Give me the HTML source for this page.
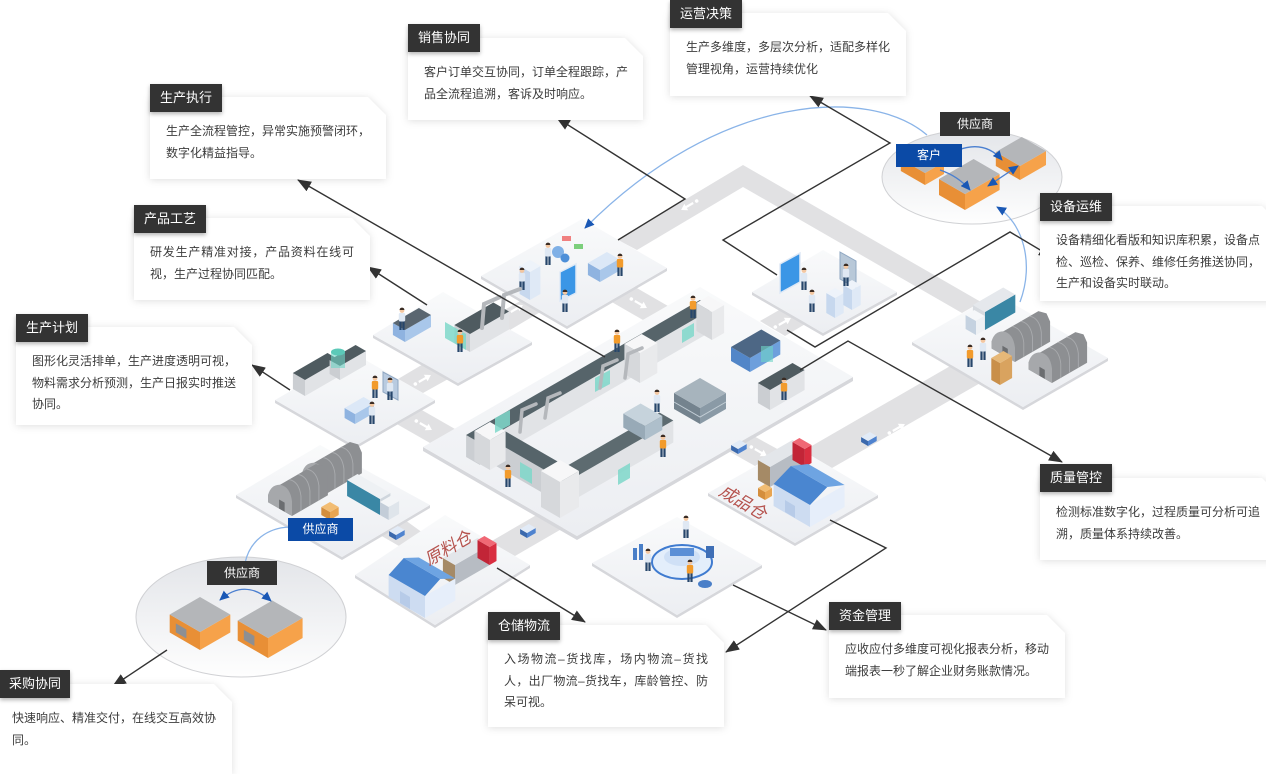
<!DOCTYPE html>
<html><head><meta charset="utf-8">
<style>
html,body{margin:0;padding:0;background:#fff;}
body{width:1266px;height:765px;position:relative;overflow:hidden;font-family:"Liberation Sans","Noto Sans CJK SC",sans-serif;}
svg{position:absolute;left:0;top:0;}
.co{position:absolute;filter:drop-shadow(0 1px 4px rgba(0,0,0,.13));}
.co .bd{width:100%;height:100%;background:#fff;clip-path:polygon(0 0,calc(100% - 18px) 0,100% 18px,100% 100%,0 100%);box-sizing:border-box;padding:24px 16px 0 16px;font-size:12px;line-height:21.5px;color:#3c3c3c;}
.bd div{white-space:nowrap;}
.bd .j{text-align:justify;text-align-last:justify;}
.tab{position:absolute;width:72px;height:28px;background:#333;color:#fff;font-size:13px;line-height:28px;text-align:center;box-shadow:0 2px 4px rgba(0,0,0,.3);}
.lb{position:absolute;color:#fff;font-size:12px;text-align:center;}
</style></head>
<body>
<svg width="1266" height="765" viewBox="0 0 1266 765">
<defs>
<linearGradient id="pg" x1="0" y1="0" x2="0" y2="1"><stop offset="0" stop-color="#f9fafb"/><stop offset="1" stop-color="#eceef2"/></linearGradient>
<linearGradient id="eg" x1="0" y1="0" x2="0" y2="1"><stop offset="0" stop-color="#e3e5e9"/><stop offset="1" stop-color="#fefefe"/></linearGradient>
<rect id="u" width="1" height="1"/>
<marker id="ah" viewBox="0 0 14 11" refX="13" refY="5.5" markerWidth="14" markerHeight="11" markerUnits="userSpaceOnUse" orient="auto"><path d="M0,0 L14,5.5 L0,11 Z" fill="#333"/></marker>
<marker id="bh" viewBox="0 0 10 9" refX="9" refY="4.5" markerWidth="10" markerHeight="9" markerUnits="userSpaceOnUse" orient="auto-start-reverse"><path d="M0,0 L10,4.5 L0,9 Z" fill="#1a58b5"/></marker>
<g id="man"><rect x="-2.6" y="-9" width="2.2" height="9" fill="#27466b"/><rect x="0.4" y="-9" width="2.2" height="9" fill="#27466b"/><rect x="-3.2" y="-17" width="6.4" height="8.5" rx="1.2" fill="#f29b2c"/><circle cx="0" cy="-19.5" r="2.4" fill="#f3c7a1"/><path d="M-2.4,-20 a2.4,2.4 0 0 1 4.8,0z" fill="#3a2b22"/></g>
<g id="manb"><rect x="-2.6" y="-9" width="2.2" height="9" fill="#27466b"/><rect x="0.4" y="-9" width="2.2" height="9" fill="#27466b"/><rect x="-3.2" y="-17" width="6.4" height="8.5" rx="1.2" fill="#dfe8f3"/><circle cx="0" cy="-19.5" r="2.4" fill="#f3c7a1"/><path d="M-2.4,-20 a2.4,2.4 0 0 1 4.8,0z" fill="#3a2b22"/></g>
<g id="hut">
<polygon points="-26,-15 -26,-23 -19,-32 -13,-34 26,-56.5 35,-54 39,-45 39,-22.5 0,0" fill="#8d8f92"/>
<path d="M9.75,-5.6 L9.75,-21.6 Q7.75,-37.6 -3.25,-39.6" fill="none" stroke="#a9abae"/>
<path d="M19.5,-11.25 L19.5,-27.25 Q17.5,-43.25 6.5,-45.25" fill="none" stroke="#a9abae"/>
<path d="M29.25,-16.9 L29.25,-32.9 Q27.25,-48.9 16.25,-50.9" fill="none" stroke="#a9abae"/>
<path d="M0,0 L0,-16 Q-2,-32 -13,-34 Q-23,-34 -26,-23 L-26,-15 Z" fill="#a6a8ab"/>
<polygon points="-8,-4.6 -14,-8 -14,-18 -8,-14.6" fill="#6b6d70"/>
</g>
<g id="agv"><use href="#u" transform="matrix(8.7,-5,0,-5,0,0)" fill="#4f83cf"/><use href="#u" transform="matrix(-6.9,-4,0,-5,0,0)" fill="#3b69ad"/><use href="#u" transform="matrix(8.7,-5,-6.9,-4,0,-5)" fill="#e2ebf7"/></g>
<g id="ra"><path d="M-6,0 L4,0" stroke="#fff" stroke-width="2.2"/><path d="M2,-3.8 L8,0 L2,3.8Z" fill="#fff"/><circle cx="-10" cy="0" r="1.8" fill="#fff"/></g>
</defs>

<!-- ellipses -->
<ellipse cx="241" cy="617" rx="105" ry="60" fill="url(#eg)" stroke="#d0d1d4"/>
<ellipse cx="972" cy="177" rx="90" ry="47" fill="url(#eg)" stroke="#d0d1d4"/>

<!-- roads -->
<g fill="#e1e1e3">
<polygon points="618,240 743,165 981,302 962,313 743,187 637,250"/>
<polygon points="952,365 982,382 832,468 803,451"/>
<polygon points="398,379 423,393 450,378 425,363"/>
<polygon points="395,423 420,409 455,429 430,443"/>
<polygon points="490,318 510,330 542,311 522,300"/>
<polygon points="610,301 635,287 668,306 643,320"/>
<polygon points="760,321 785,336 807,323 781,309"/>
<polygon points="540,513 565,527 515,556 490,542"/>
<polygon points="380,535 405,520 423,533 399,546"/>
<polygon points="725,449 750,434 781,451 755,466"/>
</g>
<use href="#ra" transform="translate(688,206) rotate(150)"/>
<use href="#ra" transform="translate(640,304) rotate(30)"/>
<use href="#ra" transform="translate(516,309) rotate(-30)"/>
<use href="#ra" transform="translate(424,379) rotate(-30)"/>
<use href="#ra" transform="translate(425,426) rotate(30)"/>
<use href="#ra" transform="translate(784,322) rotate(-30)"/>
<use href="#ra" transform="translate(898,428) rotate(-30)"/>
<use href="#ra" transform="translate(760,452) rotate(30)"/>

<!-- platforms -->
<g>
<polygon points="236,495 342,557 430,505 430,508 342,560 236,498" fill="#d6d7db"/>
<polygon points="320,445 430,505 342,557 236,495" fill="url(#pg)"/>
<polygon points="355,575 435,625 530,565 530,568 435,628 355,578" fill="#d6d7db"/>
<polygon points="445,515 530,565 435,625 355,575" fill="url(#pg)"/>
<polygon points="592,563 677,615 762,565 762,568 677,618 592,566" fill="#d6d7db"/>
<polygon points="677,517 762,565 677,615 592,563" fill="url(#pg)"/>
<polygon points="708,493 795,543 878,495 878,498 795,546 708,496" fill="#d6d7db"/>
<polygon points="793,445 878,495 795,543 708,493" fill="url(#pg)"/>
<polygon points="912,342 1023,407 1108,358 1108,361 1023,410 912,345" fill="#d6d7db"/>
<polygon points="996,294 1108,358 1023,407 912,342" fill="url(#pg)"/>
<polygon points="752,292 823,333 897,292 897,295 823,336 752,295" fill="#d6d7db"/>
<polygon points="823,250 897,292 823,333 752,292" fill="url(#pg)"/>
<polygon points="423,447 577,536 853,377 853,381 577,540 423,451" fill="#d6d7db"/>
<polygon points="700,287 853,377 577,536 423,447" fill="url(#pg)"/>
<polygon points="275,400 355,446 435,400 435,403 355,449 275,403" fill="#d6d7db"/>
<polygon points="355,354 435,400 355,446 275,400" fill="url(#pg)"/>
<polygon points="373,335 458,383 532,342 532,345 458,386 373,338" fill="#d6d7db"/>
<polygon points="443,292 532,342 458,383 373,335" fill="url(#pg)"/>
<polygon points="481,276 567,326 667,268 667,271 567,329 481,279" fill="#d6d7db"/>
<polygon points="582,219 667,268 567,326 481,276" fill="url(#pg)"/>
</g>

<!-- P1 content -->
<use href="#u" transform="matrix(10.4,-6,0,-28,530,300)" fill="#dfe9f6"/>
<use href="#u" transform="matrix(-10.4,-6,0,-28,530,300)" fill="#c7d8ee"/>
<use href="#u" transform="matrix(10.4,-6,-10.4,-6,530,272)" fill="#eef3fa"/>
<polygon points="560,272 576,264 576,293 560,301" fill="#3b96e6" stroke="#dfe9f6" stroke-width="1.5"/>
<use href="#u" transform="matrix(19,-11,0,-12,600,282)" fill="#a9c7ea"/>
<use href="#u" transform="matrix(-12.1,-7,0,-12,600,282)" fill="#8fb3e0"/>
<use href="#u" transform="matrix(19,-11,-12.1,-7,600,270)" fill="#dce8f7"/>
<circle cx="558" cy="252" r="6" fill="#7fb0e6"/><circle cx="565" cy="258" r="4.5" fill="#4d8fd8"/>
<rect x="562" y="236" width="9" height="5" fill="#f08080"/><rect x="574" y="244" width="9" height="5" fill="#7ccf7c"/>
<use href="#manb" transform="translate(522,290)"/><use href="#manb" transform="translate(548,265)"/>
<use href="#manb" transform="translate(565,312)"/><use href="#man" transform="translate(620,276)"/>

<!-- P2 content -->
<use href="#u" transform="matrix(26,-15,0,-12,405,342)" fill="#a9c7ea"/>
<use href="#u" transform="matrix(-12.1,-7,0,-12,405,342)" fill="#8fb3e0"/>
<use href="#u" transform="matrix(26,-15,-12.1,-7,405,330)" fill="#5a6670"/>
<use href="#u" transform="matrix(39,-22.5,0,-18,470,352)" fill="#e1e3e6"/>
<use href="#u" transform="matrix(-15.6,-9,0,-18,470,352)" fill="#cbced2"/>
<use href="#u" transform="matrix(39,-22.5,-15.6,-9,470,334)" fill="#4f5b60"/>
<polygon points="445,322 466,334 466,350 445,338" fill="#7fd8ca" opacity=".85"/>
<g stroke="#b5b8bc" stroke-width="4" stroke-linecap="round" fill="none">
<path d="M482,328 L484,304 L500,297"/><path d="M502,318 L504,295 L520,289"/>
</g>
<use href="#man" transform="translate(460,352)"/><use href="#manb" transform="translate(402,330)"/>

<!-- P3 content -->
<use href="#u" transform="matrix(34.6,-20,0,-16,305,396)" fill="#e1e3e6"/>
<use href="#u" transform="matrix(-12.1,-7,0,-16,305,396)" fill="#cbced2"/>
<use href="#u" transform="matrix(34.6,-20,-12.1,-7,305,380)" fill="#4f5b60"/>
<use href="#u" transform="matrix(26,-15,0,-14,340,380)" fill="#e1e3e6"/>
<use href="#u" transform="matrix(-10.4,-6,0,-14,340,380)" fill="#cbced2"/>
<use href="#u" transform="matrix(26,-15,-10.4,-6,340,366)" fill="#4f5b60"/>
<rect x="331" y="352" width="14" height="16" fill="#6fd6c6" opacity=".6"/>
<ellipse cx="338" cy="352" rx="7" ry="3.5" fill="#5cc9b8"/>
<use href="#u" transform="matrix(19,-11,0,-10,355,424)" fill="#a9c7ea"/>
<use href="#u" transform="matrix(-10.4,-6,0,-10,355,424)" fill="#8fb3e0"/>
<use href="#u" transform="matrix(19,-11,-10.4,-6,355,414)" fill="#dce8f7"/>
<polygon points="383,372 398,380 398,400 383,392" fill="#b9cbe0" stroke="#8fa7c2"/>
<use href="#man" transform="translate(375,398)"/><use href="#manb" transform="translate(372,424)"/>
<use href="#manb" transform="translate(390,400)"/>

<!-- main platform content -->
<use href="#u" transform="matrix(233.8,-135,0,-22,480,465)" fill="#e1e3e6"/>
<use href="#u" transform="matrix(-13.9,-8,0,-22,480,465)" fill="#cbced2"/>
<use href="#u" transform="matrix(233.8,-135,-13.9,-8,480,443)" fill="#56646a"/>
<use href="#u" transform="matrix(13.9,-8,0,-24,555,500)" fill="#e1e3e6"/>
<use href="#u" transform="matrix(-73.6,-42.5,0,-24,555,500)" fill="#cbced2"/>
<use href="#u" transform="matrix(13.9,-8,-73.6,-42.5,555,476)" fill="#56646a"/>
<use href="#u" transform="matrix(108.3,-62.5,0,-22,565,505)" fill="#e1e3e6"/>
<use href="#u" transform="matrix(-13.9,-8,0,-22,565,505)" fill="#cbced2"/>
<use href="#u" transform="matrix(108.3,-62.5,-13.9,-8,565,483)" fill="#5d6b70"/>
<use href="#u" transform="matrix(15.6,-9,0,-30,490,470)" fill="#e9eaec"/>
<use href="#u" transform="matrix(-15.6,-9,0,-30,490,470)" fill="#d6d8db"/>
<use href="#u" transform="matrix(15.6,-9,-15.6,-9,490,440)" fill="#f7f7f8"/>
<use href="#u" transform="matrix(19,-11,0,-36,560,518)" fill="#e9eaec"/>
<use href="#u" transform="matrix(-19,-11,0,-36,560,518)" fill="#d6d8db"/>
<use href="#u" transform="matrix(19,-11,-19,-11,560,482)" fill="#f7f7f8"/>
<use href="#u" transform="matrix(17.3,-10,0,-30,640,383)" fill="#e9eaec"/>
<use href="#u" transform="matrix(-15.6,-9,0,-30,640,383)" fill="#d6d8db"/>
<use href="#u" transform="matrix(17.3,-10,-15.6,-9,640,353)" fill="#f7f7f8"/>
<use href="#u" transform="matrix(12.1,-7,0,-28,712,340)" fill="#e9eaec"/>
<use href="#u" transform="matrix(-15.6,-9,0,-28,712,340)" fill="#d6d8db"/>
<use href="#u" transform="matrix(12.1,-7,-15.6,-9,712,312)" fill="#f7f7f8"/>
<g fill="#7fd8ca" opacity=".85">
<polygon points="495,418 510,410 510,425 495,433"/><polygon points="595,378 610,370 610,384 595,392"/>
<polygon points="618,470 630,463 630,478 618,485"/><polygon points="520,462 532,469 532,484 520,477"/>
<polygon points="682,330 694,323 694,336 682,343"/>
</g>
<g stroke="#b5b8bc" stroke-width="3.5" stroke-linecap="round" fill="none">
<path d="M600,388 L603,366 L617,360"/><path d="M625,378 L628,354 L642,348"/><path d="M545,418 L548,398 L560,393"/><path d="M520,432 L522,410 L536,404"/>
</g>
<use href="#u" transform="matrix(26,-15,0,-16,700,424)" fill="#8a9aa6"/>
<use href="#u" transform="matrix(-26,-15,0,-16,700,424)" fill="#74838e"/>
<use href="#u" transform="matrix(26,-15,-26,-15,700,408)" fill="#a7b4bd"/>
<path d="M674,402 L700,417 L726,402" fill="none" stroke="#c3ced6" stroke-width="1"/>
<use href="#u" transform="matrix(17.3,-10,0,-14,645,440)" fill="#aebfcb"/>
<use href="#u" transform="matrix(-21.7,-12.5,0,-14,645,440)" fill="#98aab7"/>
<use href="#u" transform="matrix(17.3,-10,-21.7,-12.5,645,426)" fill="#c6d3dc"/>
<use href="#u" transform="matrix(30.3,-17.5,0,-14,750,372)" fill="#6d9fdc"/>
<use href="#u" transform="matrix(-19,-11,0,-14,750,372)" fill="#5286c8"/>
<use href="#u" transform="matrix(30.3,-17.5,-19,-11,750,358)" fill="#4d6785"/>
<use href="#u" transform="matrix(34.6,-20,0,-20,770,410)" fill="#e1e3e6"/>
<use href="#u" transform="matrix(-12.1,-7,0,-20,770,410)" fill="#cbced2"/>
<use href="#u" transform="matrix(34.6,-20,-12.1,-7,770,390)" fill="#4f5b60"/>
<rect x="761" y="346" width="12" height="16" fill="#6fd6c6" opacity=".6"/>
<use href="#man" transform="translate(508,487)"/><use href="#man" transform="translate(663,457)"/>
<use href="#man" transform="translate(617,352)"/><use href="#man" transform="translate(693,318)"/>
<use href="#man" transform="translate(784,400)"/><use href="#manb" transform="translate(657,412)"/>

<!-- Prt content -->
<polygon points="780,264 800,253 800,282 780,293" fill="#3b96e6" stroke="#dfe9f6" stroke-width="1.5"/>
<polygon points="840,252 856,261 856,288 840,279" fill="#b8c8d8" stroke="#8fa7c2"/>
<use href="#u" transform="matrix(8.7,-5,0,-20,835,318)" fill="#dfe9f6"/>
<use href="#u" transform="matrix(-8.7,-5,0,-20,835,318)" fill="#c7d8ee"/>
<use href="#u" transform="matrix(8.7,-5,-8.7,-5,835,298)" fill="#eef3fa"/>
<use href="#u" transform="matrix(8.7,-5,0,-20,852,310)" fill="#dfe9f6"/>
<use href="#u" transform="matrix(-8.7,-5,0,-20,852,310)" fill="#c7d8ee"/>
<use href="#u" transform="matrix(8.7,-5,-8.7,-5,852,290)" fill="#eef3fa"/>
<use href="#manb" transform="translate(804,290)"/><use href="#manb" transform="translate(846,286)"/>
<use href="#manb" transform="translate(812,312)"/>

<!-- P_right content -->
<use href="#u" transform="matrix(30.3,-17.5,0,-18,985,330)" fill="#3a87a5"/>
<use href="#u" transform="matrix(-12.1,-7,0,-18,985,330)" fill="#d7dbe0"/>
<use href="#u" transform="matrix(30.3,-17.5,-12.1,-7,985,312)" fill="#e5e8ec"/>
<use href="#u" transform="matrix(8.7,-5,0,-14,976,335)" fill="#eef1f4"/>
<use href="#u" transform="matrix(-10.4,-6,0,-14,976,335)" fill="#c5d2e0"/>
<use href="#u" transform="matrix(8.7,-5,-10.4,-6,976,321)" fill="#f5f7f9"/>
<use href="#hut" transform="translate(1015,362) scale(.9)"/>
<use href="#hut" transform="translate(1052,383) scale(.9)"/>
<use href="#u" transform="matrix(12.1,-7,0,-22,1000,385)" fill="#d9a35f"/>
<use href="#u" transform="matrix(-8.7,-5,0,-22,1000,385)" fill="#c98f4a"/>
<use href="#u" transform="matrix(12.1,-7,-8.7,-5,1000,363)" fill="#e6b878"/>
<use href="#man" transform="translate(970,367)"/><use href="#manb" transform="translate(983,360)"/>

<!-- P_fin -->
<use href="#u" transform="matrix(34.6,-20,0,-20,770,487)" fill="#b7bcc3"/>
<use href="#u" transform="matrix(-12.1,-7,0,-20,770,487)" fill="#a58a66"/>
<use href="#u" transform="matrix(34.6,-20,-12.1,-7,770,467)" fill="#e3e6ea"/>
<use href="#u" transform="matrix(6.9,-4,0,-18,804.6,467)" fill="#d92e40"/>
<use href="#u" transform="matrix(-12.1,-7,0,-18,804.6,467)" fill="#c22537"/>
<use href="#u" transform="matrix(6.9,-4,-12.1,-7,804.6,449)" fill="#f06875"/>
<use href="#u" transform="matrix(7,-4,0,-8,765,500)" fill="#e8a552"/>
<use href="#u" transform="matrix(-7,-4,0,-8,765,500)" fill="#d48e3d"/>
<use href="#u" transform="matrix(7,-4,-7,-4,765,492)" fill="#f2bd73"/>
<use href="#u" transform="matrix(34.6,-20,0,-22,810,527)" fill="#e6eefa"/>
<use href="#u" transform="matrix(-36.4,-21,0,-22,810,527)" fill="#cddcf1"/>
<polygon points="810,505 827.3,487 790.9,466 773.6,484" fill="#4a86d0"/>
<polygon points="827.3,487 844.6,485 808.2,464 790.9,466" fill="#6ea4e2"/>
<polygon points="795,518 785,512 785,500 795,506" fill="#b7cbe8"/>
<text x="743" y="508" transform="rotate(30 743 502)" font-size="17" fill="#b5524d" font-style="italic" text-anchor="middle" font-family="Liberation Sans, Noto Sans CJK SC, sans-serif">成品仓</text>

<!-- P_money -->
<ellipse cx="682" cy="562" rx="30" ry="17" fill="#e3eefb" stroke="#3f7bd0" stroke-width="2"/>
<ellipse cx="682" cy="557" rx="18" ry="9" fill="#cfe0f6"/>
<rect x="670" y="548" width="24" height="8" fill="#5b8fd6"/>
<rect x="633" y="548" width="4" height="12" fill="#4a7fc8"/><rect x="639" y="544" width="4" height="16" fill="#4a7fc8"/>
<rect x="706" y="546" width="8" height="12" fill="#3f6fb6"/>
<ellipse cx="705" cy="584" rx="7" ry="4" fill="#4a7fc8"/>
<use href="#manb" transform="translate(648,571)"/><use href="#man" transform="translate(690,582)"/>
<use href="#manb" transform="translate(686,538)"/>

<!-- P_raw -->
<use href="#u" transform="matrix(34.6,-20,0,-20,455,585)" fill="#b7bcc3"/>
<use href="#u" transform="matrix(-12.1,-7,0,-20,455,585)" fill="#a58a66"/>
<use href="#u" transform="matrix(34.6,-20,-12.1,-7,455,565)" fill="#e3e6ea"/>
<use href="#u" transform="matrix(6.9,-4,0,-18,489.6,565)" fill="#d92e40"/>
<use href="#u" transform="matrix(-12.1,-7,0,-18,489.6,565)" fill="#c22537"/>
<use href="#u" transform="matrix(6.9,-4,-12.1,-7,489.6,547)" fill="#f06875"/>
<use href="#u" transform="matrix(30.3,-17.5,0,-22,425,618)" fill="#e6eefa"/>
<use href="#u" transform="matrix(-36.4,-21,0,-22,425,618)" fill="#cddcf1"/>
<polygon points="425,596 440.2,579 403.8,558 388.6,575" fill="#4a86d0"/>
<polygon points="440.2,579 455.3,578.5 418.9,557.5 403.8,558" fill="#6ea4e2"/>
<polygon points="410,609 400,603 400,591 410,597" fill="#b7cbe8"/>
<text x="448" y="554" transform="rotate(-30 448 548)" font-size="17" fill="#b5524d" font-style="italic" text-anchor="middle" font-family="Liberation Sans, Noto Sans CJK SC, sans-serif">原料仓</text>

<!-- Psl -->
<use href="#hut" transform="translate(326,494) scale(.92)"/>
<use href="#hut" transform="translate(292,516) scale(.92)"/>
<use href="#u" transform="matrix(10.4,-6,0,-16,380,515)" fill="#cfd6dd"/>
<use href="#u" transform="matrix(-32.9,-19,0,-16,380,515)" fill="#3a87a5"/>
<use href="#u" transform="matrix(10.4,-6,-32.9,-19,380,499)" fill="#eef1f4"/>
<use href="#u" transform="matrix(10.4,-6,0,-13,388.7,520)" fill="#dfe5eb"/>
<use href="#u" transform="matrix(-8.7,-5,0,-13,388.7,520)" fill="#c3cdd8"/>
<use href="#u" transform="matrix(10.4,-6,-8.7,-5,388.7,507)" fill="#f3f5f7"/>
<use href="#u" transform="matrix(8.7,-5,0,-8,330,520)" fill="#e8a552"/>
<use href="#u" transform="matrix(-8.7,-5,0,-8,330,520)" fill="#d48e3d"/>
<use href="#u" transform="matrix(8.7,-5,-8.7,-5,330,512)" fill="#f2bd73"/>

<!-- AGVs -->
<use href="#agv" transform="translate(396,540)"/>
<use href="#agv" transform="translate(527,538)"/>
<use href="#agv" transform="translate(738,454)"/>
<use href="#agv" transform="translate(868,446)"/>

<!-- ellipse buildings -->
<use href="#u" transform="matrix(30.3,-17.5,0,-18,200,650)" fill="#f6a24a"/>
<use href="#u" transform="matrix(-30.3,-17.5,0,-18,200,650)" fill="#e88f36"/>
<use href="#u" transform="matrix(30.3,-17.5,-30.3,-17.5,200,632)" fill="#b4b6b9"/>
<use href="#u" transform="matrix(-10.6,-6.1,0,-9,186.4,638.5)" fill="#8d8f93"/>
<use href="#u" transform="matrix(34.6,-20,0,-20,268,658)" fill="#f6a24a"/>
<use href="#u" transform="matrix(-30.3,-17.5,0,-20,268,658)" fill="#e88f36"/>
<use href="#u" transform="matrix(34.6,-20,-30.3,-17.5,268,638)" fill="#b4b6b9"/>
<use href="#u" transform="matrix(-10.6,-6.1,0,-10,254.4,646)" fill="#8d8f93"/>
<use href="#u" transform="matrix(19,-11,0,-12,925,185)" fill="#f6a24a"/>
<use href="#u" transform="matrix(-24.2,-14,0,-12,925,185)" fill="#e88f36"/>
<use href="#u" transform="matrix(19,-11,-24.2,-14,925,173)" fill="#b4b6b9"/>
<use href="#u" transform="matrix(34.6,-20,0,-16,965,210)" fill="#f6a24a"/>
<use href="#u" transform="matrix(-26,-15,0,-16,965,210)" fill="#e88f36"/>
<use href="#u" transform="matrix(34.6,-20,-26,-15,965,194)" fill="#b4b6b9"/>
<use href="#u" transform="matrix(26,-15,0,-14,1020,180)" fill="#f6a24a"/>
<use href="#u" transform="matrix(-24.2,-14,0,-14,1020,180)" fill="#e88f36"/>
<use href="#u" transform="matrix(26,-15,-24.2,-14,1020,166)" fill="#b4b6b9"/>

<!-- blue arrows -->
<g fill="none" stroke="#4a7fd0" stroke-width="1.3">
<path d="M220,600 Q245,578 271,601" marker-start="url(#bh)" marker-end="url(#bh)"/>
<path d="M958,150 Q985,140 1002,160" marker-end="url(#bh)"/>
<path d="M940,170 Q958,176 970,190" marker-end="url(#bh)"/>
<path d="M988,186 L1018,166" marker-start="url(#bh)" marker-end="url(#bh)"/>
</g>
<g fill="none" stroke="#8ab4e8" stroke-width="1.3">
<path d="M927,135 C870,86 720,92 585,228" marker-end="url(#bh)"/>
<path d="M1020,302 C1035,262 1022,222 997,207" marker-end="url(#bh)"/>
<path d="M245,563 C250,540 268,528 289,527"/>
</g>

<!-- connectors -->
<g fill="none" stroke="#333" stroke-width="1.4" marker-end="url(#ah)">
<path d="M618,240 L685,199 L557,118"/>
<path d="M777,275 L723,240 L890,143 L810,96"/>
<path d="M787,330 L815,347 L1010,232 L1052,257"/>
<path d="M800,370 L848,341 L1062,462"/>
<path d="M605,357 L298,180"/>
<path d="M427,305 L368,267"/>
<path d="M290,390 L252,365"/>
<path d="M167,650 L113,686"/>
<path d="M497,568 L585,622"/>
<path d="M733,585 L826,630"/>
<path d="M830,520 L886,548 L726,652"/>
</g>
</svg>

<div class="lb" style="left:940px;top:112px;width:70px;height:24px;line-height:24px;background:#333">供应商</div>
<div class="lb" style="left:896px;top:144px;width:66px;height:23px;line-height:23px;background:#0b4aa6">客户</div>
<div class="lb" style="left:288px;top:518px;width:65px;height:23px;line-height:23px;background:#0b4aa6">供应商</div>
<div class="lb" style="left:207px;top:561px;width:70px;height:24px;line-height:24px;background:#333">供应商</div>

<div class="co" style="left:408px;top:38px;width:235px;height:82px"><div class="bd"><div class="j">客户订单交互协同，订单全程跟踪，产</div><div>品全流程追溯，客诉及时响应。</div></div></div>
<div class="tab" style="left:408px;top:24px">销售协同</div>

<div class="co" style="left:670px;top:13px;width:236px;height:83px"><div class="bd"><div class="j">生产多维度，多层次分析，适配多样化</div><div>管理视角，运营持续优化</div></div></div>
<div class="tab" style="left:670px;top:0px">运营决策</div>

<div class="co" style="left:150px;top:97px;width:236px;height:82px"><div class="bd"><div class="j">生产全流程管控，异常实施预警闭环，</div><div>数字化精益指导。</div></div></div>
<div class="tab" style="left:150px;top:84px">生产执行</div>

<div class="co" style="left:134px;top:218px;width:236px;height:82px"><div class="bd"><div class="j">研发生产精准对接，产品资料在线可</div><div>视，生产过程协同匹配。</div></div></div>
<div class="tab" style="left:134px;top:205px">产品工艺</div>

<div class="co" style="left:16px;top:327px;width:236px;height:98px"><div class="bd"><div class="j">图形化灵活排单，生产进度透明可视，</div><div class="j">物料需求分析预测，生产日报实时推送</div><div>协同。</div></div></div>
<div class="tab" style="left:16px;top:314px">生产计划</div>

<div class="co" style="left:1040px;top:206px;width:240px;height:95px"><div class="bd" style="padding-right:20px"><div class="j">设备精细化看版和知识库积累，设备点</div><div class="j">检、巡检、保养、维修任务推送协同，</div><div>生产和设备实时联动。</div></div></div>
<div class="tab" style="left:1040px;top:193px">设备运维</div>

<div class="co" style="left:1040px;top:478px;width:240px;height:82px"><div class="bd" style="padding-right:20px"><div class="j">检测标准数字化，过程质量可分析可追</div><div>溯，质量体系持续改善。</div></div></div>
<div class="tab" style="left:1040px;top:464px">质量管控</div>

<div class="co" style="left:829px;top:615px;width:236px;height:83px"><div class="bd"><div class="j">应收应付多维度可视化报表分析，移动</div><div>端报表一秒了解企业财务账款情况。</div></div></div>
<div class="tab" style="left:829px;top:602px">资金管理</div>

<div class="co" style="left:488px;top:625px;width:236px;height:102px"><div class="bd"><div class="j">入场物流–货找库，场内物流–货找</div><div class="j">人，出厂物流–货找车，库龄管控、防</div><div>呆可视。</div></div></div>
<div class="tab" style="left:488px;top:612px">仓储物流</div>

<div class="co" style="left:0px;top:684px;width:232px;height:90px"><div class="bd" style="padding-left:12px"><div class="j">快速响应、精准交付，在线交互高效协</div><div>同。</div></div></div>
<div class="tab" style="left:0px;top:670px;width:70px">采购协同</div>
</body></html>
